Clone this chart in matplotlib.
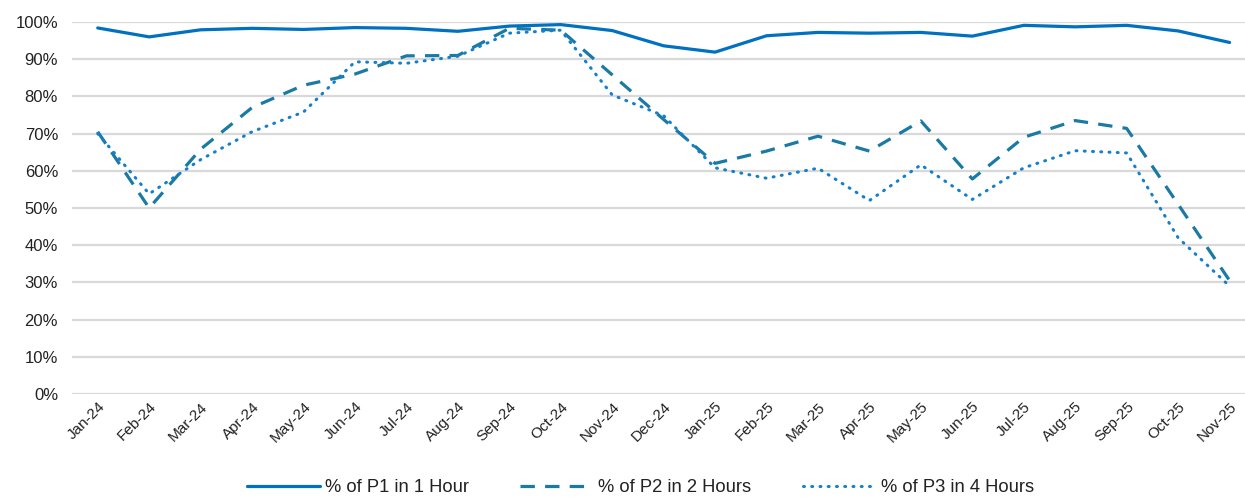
import matplotlib
matplotlib.use("Agg")
import matplotlib.pyplot as plt
from matplotlib.ticker import PercentFormatter

months = ["Jan-24", "Feb-24", "Mar-24", "Apr-24", "May-24", "Jun-24", "Jul-24", "Aug-24",
          "Sep-24", "Oct-24", "Nov-24", "Dec-24", "Jan-25", "Feb-25", "Mar-25", "Apr-25",
          "May-25", "Jun-25", "Jul-25", "Aug-25", "Sep-25", "Oct-25", "Nov-25"]

p1_1hour = [98.4, 96.0, 97.9, 98.3, 98.0, 98.5, 98.3, 97.5, 98.9, 99.3, 97.7, 93.6, 91.9,
            96.3, 97.2, 97.0, 97.2, 96.2, 99.1, 98.7, 99.1, 97.6, 94.5]
p2_2hours = [70.5, 50.0, 65.8, 77.0, 83.0, 86.0, 90.9, 91.0, 98.3, 97.8, 85.8, 73.8, 62.0,
             65.3, 69.3, 65.3, 73.4, 57.8, 69.0, 73.5, 71.4, 51.0, 30.5]
p3_4hours = [70.0, 53.8, 63.0, 70.5, 75.8, 89.3, 88.9, 90.8, 97.0, 97.8, 80.4, 74.8, 60.8,
             58.0, 60.7, 52.0, 61.6, 52.3, 60.8, 65.4, 64.8, 42.0, 29.0]

labels = ["% of P1 in 1 Hour", "% of P2 in 2 Hours", "% of P3 in 4 Hours"]

plt.rcParams['font.family'] = ['Liberation Sans', 'DejaVu Sans']

fig = plt.figure(figsize=(12.45, 4.97), dpi=100)
ax = fig.add_axes([72 / 1245, 1 - 394 / 497, (1245 - 72) / 1245, (394 - 22) / 497])

x = list(range(len(months)))
ax.plot(x, p1_1hour, color="#0070C0", lw=2.3, solid_capstyle="round", label=labels[0], zorder=4)
ax.plot(x, p2_2hours, color="#1A7AA3", lw=2.3, dashes=(4.5, 3.2), label=labels[1], zorder=3)
ax.plot(x, p3_4hours, color="#1480CC", lw=2.2, linestyle=(0, (0.3, 2.4)),
        dash_capstyle="round", label=labels[2], zorder=3)

ax.set_ylim(0, 100)
ax.set_xlim(-0.5, 22.3)
ax.set_yticks(range(0, 101, 10))
ax.yaxis.set_major_formatter(PercentFormatter(decimals=0))
ax.set_xticks(x)
ax.set_xticklabels(months, rotation=45, ha="right", rotation_mode="anchor", fontsize=11)
ax.tick_params(axis="y", labelsize=12, length=0, pad=10, colors="#222222")
ax.tick_params(axis="x", length=0, pad=4, colors="#222222")
ax.grid(axis="y", color="#D9D9D9", lw=1.6, zorder=0)
ax.set_axisbelow(True)
for s in ax.spines.values():
    s.set_visible(False)

leg = fig.legend(loc="center", bbox_to_anchor=(0.5145, 1 - 488 / 497), ncol=3, frameon=False,
                 fontsize=13.2, handlelength=3.95, columnspacing=2.8, handletextpad=0.3,
                 borderpad=0.0)
for t in leg.get_texts():
    t.set_color("#222222")

fig.savefig("out.png", dpi=100)
